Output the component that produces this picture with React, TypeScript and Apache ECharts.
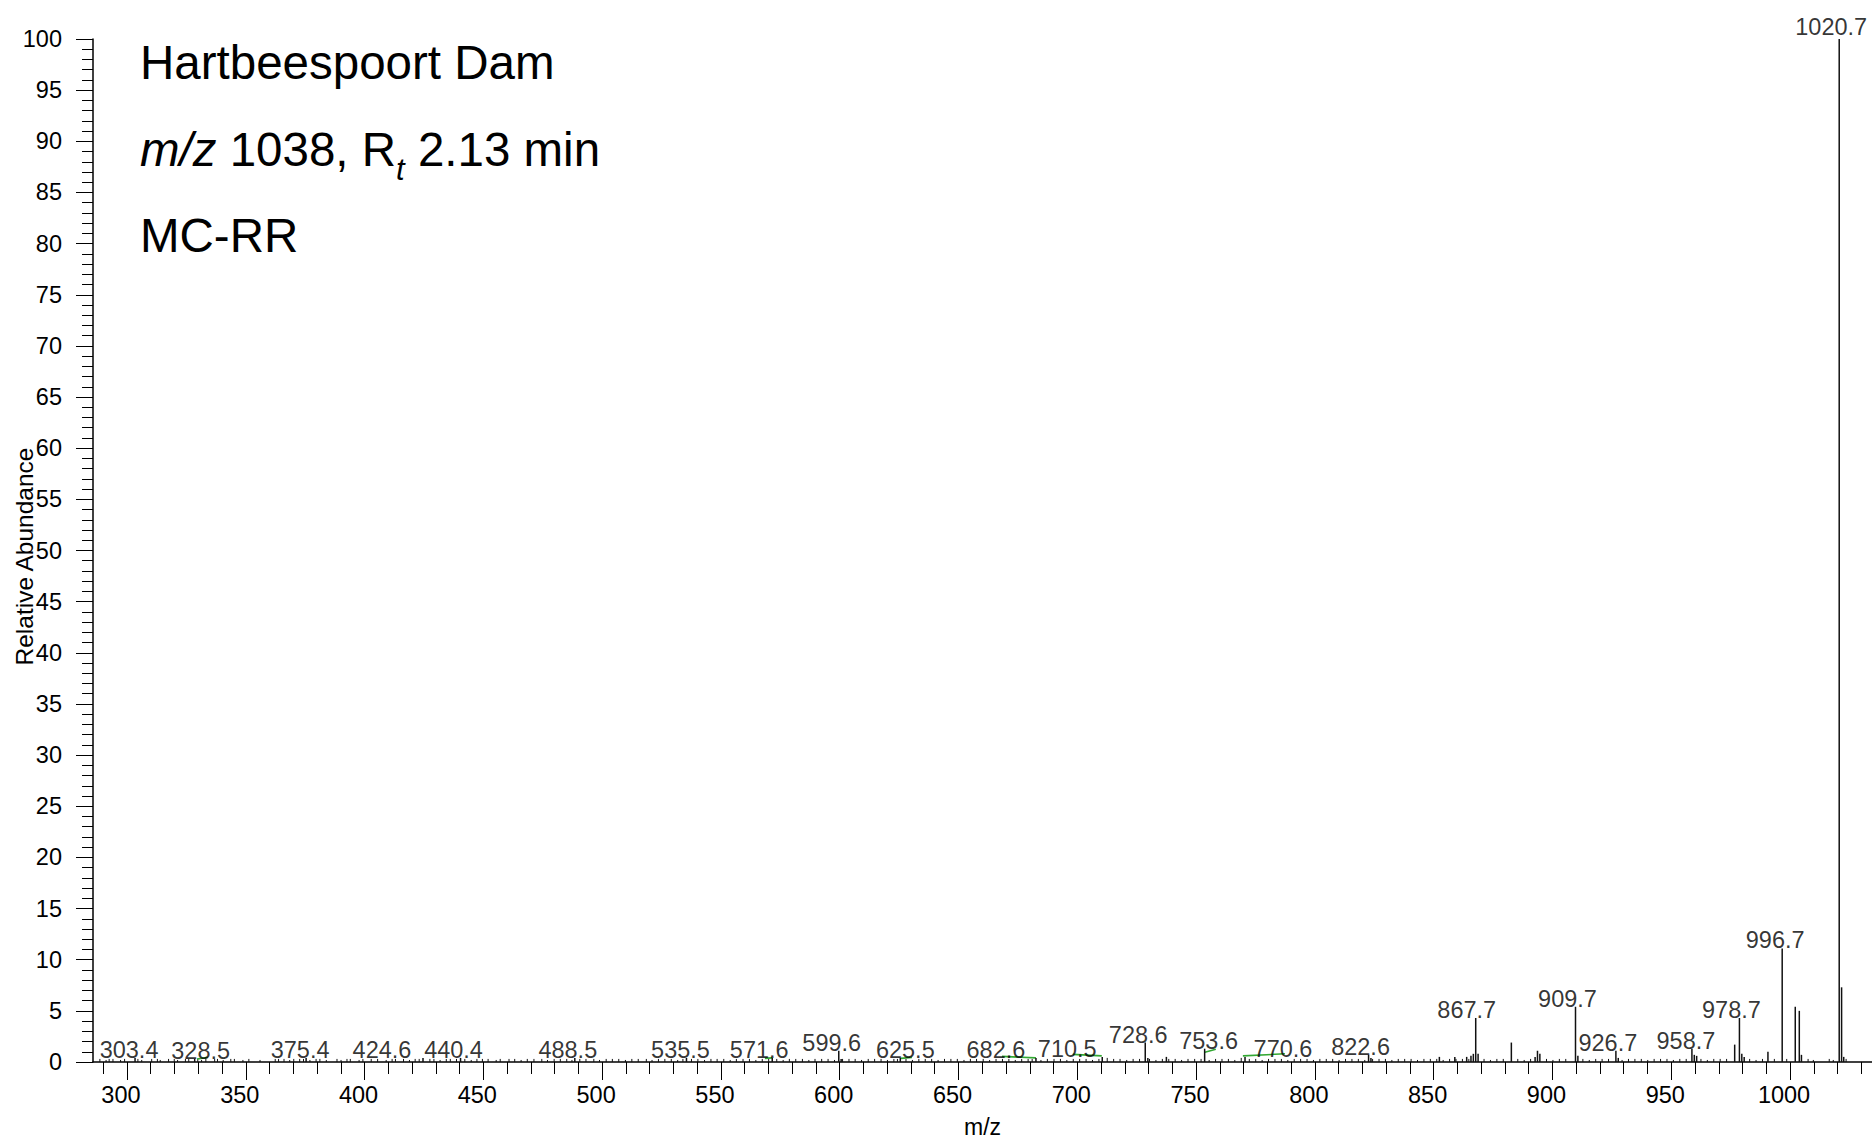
import React, { useEffect, useRef } from "react";
import * as echarts from "echarts";

const FONT = "Liberation Sans, Arial, Helvetica, sans-serif";

// Labelled peaks: m/z label and relative abundance
const peakLabels = ["303.4", "328.5", "375.4", "424.6", "440.4", "488.5", "535.5", "571.6", "599.6", "625.5", "682.6", "710.5", "728.6", "753.6", "770.6", "822.6", "867.7", "909.7", "926.7", "958.7", "978.7", "996.7", "1020.7"];
const peakValues = [0.4, 0.3, 0.4, 0.4, 0.4, 0.4, 0.4, 0.4, 1.1, 0.4, 0.4, 0.5, 1.9, 1.3, 0.5, 0.7, 4.3, 5.4, 1.1, 1.3, 4.3, 11.1, 100];
// label shifts (px) used by the instrument software to avoid overlaps
const labelShiftX = [-6, 6, -6, -41, -7, -7, -6, -13, -7, 5, -40, -35, -7, 4, 38, -8, -9, -8, -8, -6, -8, -7, -8];
const labelShiftY = [4, 4, 4, 4, 4, 4, 4, 4, 4, 4, 4, 4, 4, 4, 4, 4, 4, 4, 4, 4, 4, 4, 0];

// Unlabelled minor peaks [m/z, abundance]
const minorPeaks: [number, number][] = [
  [865.7, 0.6], [866.7, 0.8], [868.7, 0.8], [882.7, 1.9], [892.7, 0.5], [893.7, 1.1], [894.7, 0.8],
  [910.7, 0.6], [927.7, 0.4], [959.7, 0.7], [960.7, 0.6], [976.7, 1.7], [979.7, 0.8], [980.7, 0.5],
  [990.7, 1.0], [1002.2, 5.4], [1003.9, 5.0], [1004.8, 0.7], [1021.7, 7.3], [1022.6, 0.5],
  [729.7, 0.4], [737.5, 0.5], [600.6, 0.3], [823.6, 0.4], [852.4, 0.5], [858.9, 0.5], [863.9, 0.5],
];

// Baseline noise peaks [m/z, abundance]
const noisePeaks: [number, number][] = [
  [288.6, 0.3], [291.2, 0.2], [292.5, 0.3], [294.1, 0.3], [297.3, 0.2], [299.0, 0.3], [304.6, 0.3], [306.2, 0.2],
  [310.4, 0.3], [312.8, 0.3], [314.0, 0.2], [317.5, 0.3], [319.9, 0.3], [321.3, 0.2], [324.6, 0.3], [326.0, 0.3],
  [329.8, 0.3], [331.4, 0.2], [333.2, 0.3], [336.9, 0.3], [338.1, 0.3], [340.5, 0.2], [343.7, 0.3], [345.2, 0.3],
  [348.8, 0.2], [351.3, 0.3], [356.0, 0.2], [362.4, 0.3], [363.8, 0.3], [366.1, 0.3], [368.5, 0.2], [370.2, 0.3],
  [372.7, 0.3], [374.3, 0.3], [377.0, 0.2], [379.6, 0.3], [381.2, 0.3], [383.9, 0.2], [388.4, 0.3], [390.1, 0.2],
  [392.6, 0.3], [394.0, 0.3], [397.7, 0.2], [399.3, 0.3], [402.8, 0.3], [405.5, 0.3], [409.1, 0.2], [411.6, 0.3],
  [413.0, 0.3], [416.4, 0.3], [418.9, 0.2], [421.3, 0.3], [423.0, 0.3], [427.5, 0.3], [429.2, 0.3], [431.8, 0.2],
  [434.4, 0.3], [436.1, 0.3], [438.7, 0.3], [442.2, 0.3], [444.9, 0.2], [447.3, 0.3], [449.6, 0.3], [452.0, 0.3],
  [455.4, 0.2], [457.1, 0.3], [460.8, 0.3], [463.2, 0.3], [465.9, 0.2], [468.5, 0.3], [471.3, 0.3], [474.6, 0.3],
  [477.0, 0.2], [479.8, 0.3], [482.4, 0.3], [485.1, 0.3], [487.3, 0.2], [490.6, 0.3], [493.2, 0.3], [496.5, 0.3],
  [498.9, 0.2], [501.7, 0.3], [504.3, 0.3], [507.0, 0.3], [509.8, 0.2], [512.5, 0.3], [515.2, 0.3], [518.6, 0.3],
  [521.0, 0.2], [523.7, 0.3], [526.4, 0.3], [529.1, 0.3], [531.8, 0.2], [534.0, 0.3], [537.6, 0.3], [540.3, 0.3],
  [543.1, 0.2], [545.8, 0.3], [548.4, 0.3], [551.2, 0.3], [553.9, 0.2], [556.5, 0.3], [559.3, 0.3], [562.0, 0.3],
  [564.7, 0.2], [567.4, 0.3], [570.1, 0.3], [573.5, 0.3], [576.2, 0.2], [578.8, 0.3], [581.5, 0.3], [584.3, 0.3],
  [587.0, 0.2], [589.6, 0.3], [592.4, 0.3], [595.1, 0.3], [597.8, 0.2], [601.2, 0.3], [603.9, 0.3], [606.5, 0.3],
  [609.2, 0.2], [612.0, 0.3], [614.7, 0.3], [617.4, 0.3], [620.1, 0.2], [622.8, 0.3], [624.3, 0.3], [627.9, 0.3],
  [630.6, 0.2], [633.3, 0.3], [636.0, 0.3], [638.7, 0.3], [641.4, 0.2], [644.1, 0.3], [646.8, 0.3], [649.5, 0.3],
  [652.3, 0.2], [655.0, 0.3], [657.6, 0.3], [660.4, 0.3], [663.1, 0.2], [665.8, 0.3], [668.5, 0.3], [671.2, 0.3],
  [673.9, 0.2], [676.6, 0.3], [679.3, 0.3], [681.0, 0.3], [684.7, 0.2], [687.4, 0.3], [690.2, 0.3], [692.9, 0.3],
  [695.6, 0.2], [698.3, 0.3], [701.0, 0.3], [703.7, 0.3], [706.4, 0.2], [709.1, 0.3], [712.6, 0.4], [715.3, 0.3],
  [718.0, 0.3], [720.8, 0.2], [723.5, 0.3], [726.2, 0.3], [730.4, 0.3], [733.1, 0.2], [735.8, 0.3], [738.5, 0.3],
  [741.2, 0.3], [743.9, 0.2], [746.6, 0.3], [749.4, 0.3], [752.1, 0.3], [755.5, 0.2], [758.2, 0.3], [760.9, 0.3],
  [763.6, 0.3], [766.3, 0.2], [769.0, 0.4], [772.4, 0.3], [775.1, 0.3], [777.8, 0.2], [780.5, 0.3], [783.2, 0.3],
  [785.9, 0.3], [788.6, 0.2], [791.3, 0.3], [794.0, 0.3], [796.7, 0.3], [799.4, 0.2], [802.1, 0.3], [804.8, 0.3],
  [807.5, 0.3], [810.2, 0.2], [812.9, 0.3], [815.6, 0.3], [818.3, 0.3], [821.0, 0.2], [824.3, 0.3], [827.0, 0.3],
  [829.7, 0.3], [832.4, 0.2], [835.1, 0.3], [837.8, 0.3], [840.5, 0.3], [843.2, 0.2], [845.9, 0.3], [848.6, 0.3],
  [851.3, 0.3], [854.0, 0.2], [856.7, 0.3], [859.4, 0.3], [862.1, 0.3], [864.8, 0.3], [871.2, 0.3], [873.9, 0.2],
  [876.6, 0.3], [879.3, 0.3], [885.4, 0.3], [888.1, 0.2], [890.8, 0.3], [897.5, 0.3], [900.2, 0.2], [902.9, 0.3],
  [905.6, 0.3], [912.8, 0.3], [915.5, 0.2], [918.2, 0.3], [920.9, 0.3], [923.6, 0.3], [929.3, 0.2], [932.0, 0.3],
  [934.7, 0.3], [937.4, 0.3], [940.1, 0.2], [942.8, 0.3], [945.5, 0.3], [948.2, 0.3], [950.9, 0.2], [953.6, 0.3],
  [956.3, 0.3], [962.5, 0.3], [965.2, 0.2], [967.9, 0.3], [970.6, 0.3], [973.3, 0.3], [983.0, 0.3], [985.7, 0.2],
  [988.4, 0.3], [993.4, 0.3], [998.6, 0.3], [1007.6, 0.3], [1009.8, 0.2], [1016.5, 0.3], [1018.2, 0.2], [1023.6, 0.3],
];

// Green trace fragments [m/z start, abundance start, m/z end, abundance end]
const greenTrace: [number, number, number, number][] = [
  [329.5, 0.3, 334.0, 0.45],
  [568.5, 0.35, 571.5, 0.4],
  [625.8, 0.35, 630.4, 0.45],
  [668.3, 0.55, 682.6, 0.4],
  [698.1, 0.75, 710.3, 0.6],
  [753.7, 0.95, 758.3, 1.25],
  [769.7, 0.6, 787.4, 0.8],
];

const xMajorTicks = [300, 350, 400, 450, 500, 550, 600, 650, 700, 750, 800, 850, 900, 950, 1000];
const xMinorTicks = [290, 300, 310, 320, 330, 340, 350, 360, 370, 380, 390, 400, 410, 420, 430, 440, 450, 460, 470, 480, 490, 500, 510, 520, 530, 540, 550, 560, 570, 580, 590, 600, 610, 620, 630, 640, 650, 660, 670, 680, 690, 700, 710, 720, 730, 740, 750, 760, 770, 780, 790, 800, 810, 820, 830, 840, 850, 860, 870, 880, 890, 900, 910, 920, 930, 940, 950, 960, 970, 980, 990, 1000, 1010, 1020, 1030];

const titleLines = ["Hartbeespoort Dam", "{i|m/z} 1038, R{sub|t} 2.13 min", "MC-RR"];

const X_MIN = 285.7;
const X_MAX = 1034.5;

export default function App() {
  const ref = useRef<HTMLDivElement>(null);
  useEffect(() => {
    if (!ref.current) return;
    const chart = echarts.init(ref.current, undefined, { renderer: "svg" });

    const stickItem = (width: number) => (params: any, api: any) => {
      const x = api.value(0);
      const h = api.value(1);
      const p0 = api.coord([x, 0]);
      const p1 = api.coord([x, h]);
      return {
        type: "line",
        shape: { x1: p0[0], y1: p0[1], x2: p1[0], y2: p1[1] },
        style: { stroke: "#111", lineWidth: width },
      };
    };

    const labelled = peakLabels.map((l, i) => ({
      value: [parseFloat(l), peakValues[i]],
      name: l,
      label: { offset: [labelShiftX[i], labelShiftY[i]] },
    }));

    const option: any = {
      animation: false,
      backgroundColor: "#fff",
      grid: { left: 93, right: 0, top: 39, bottom: 78, containLabel: false, outerBoundsMode: "none" },
      xAxis: [
        {
          type: "value",
          min: X_MIN,
          max: X_MAX,
          position: "bottom",
          axisLine: { show: true, onZero: false, lineStyle: { color: "#000", width: 1.5 } },
          axisTick: { show: true, inside: false, length: 12, customValues: xMinorTicks, lineStyle: { color: "#000", width: 1 } },
          axisLabel: { show: false },
          splitLine: { show: false },
        },
        {
          type: "value",
          min: X_MIN,
          max: X_MAX,
          position: "bottom",
          offset: 0,
          name: "m/z",
          nameLocation: "middle",
          nameGap: 53,
          nameMoveOverlap: false,
          nameTextStyle: { fontSize: 23, color: "#000", fontFamily: FONT },
          axisLine: { show: false },
          axisTick: { show: true, inside: false, length: 18, customValues: xMajorTicks, lineStyle: { color: "#000", width: 1 } },
          axisLabel: {
            show: true,
            customValues: xMajorTicks,
            formatter: (v: number) => String(v),
            fontSize: 23.5,
            color: "#000",
            fontFamily: FONT,
            margin: 21,
            padding: [0, 12, 0, 0],
          },
          splitLine: { show: false },
        },
      ],
      yAxis: {
        type: "value",
        min: 0,
        max: 100,
        interval: 5,
        name: "Relative Abundance",
        nameLocation: "middle",
        nameRotate: 90,
        nameGap: 56,
        nameMoveOverlap: false,
        nameTextStyle: { fontSize: 24.5, color: "#000", fontFamily: FONT, padding: [0, 12, 0, 0] },
        axisLine: { show: true, lineStyle: { color: "#000", width: 1.5 } },
        axisTick: { show: true, inside: false, length: 17, lineStyle: { color: "#000", width: 1 } },
        minorTick: { show: true, splitNumber: 5, length: 11, lineStyle: { color: "#000", width: 1 } },
        axisLabel: { fontSize: 23.5, color: "#000", fontFamily: FONT, margin: 31 },
        splitLine: { show: false },
      },
      graphic: [
        {
          type: "text",
          x: 140,
          y: 62,
          style: { text: titleLines[0], fontSize: 47.5, fontFamily: FONT, fill: "#000", verticalAlign: "middle" },
        },
        {
          type: "text",
          x: 140,
          y: 113,
          style: {
            text: titleLines[1],
            fontSize: 47.5,
            lineHeight: 72,
            fontFamily: FONT,
            fill: "#000",
            verticalAlign: "top",
            rich: {
              i: { fontSize: 47.5, lineHeight: 72, fontStyle: "italic", fontFamily: FONT, fill: "#000" },
              sub: { fontSize: 31, lineHeight: 31, fontStyle: "italic", fontFamily: FONT, verticalAlign: "bottom", fill: "#000" },
            },
          },
        },
        {
          type: "text",
          x: 140,
          y: 235,
          style: { text: titleLines[2], fontSize: 47.5, fontFamily: FONT, fill: "#000", verticalAlign: "middle" },
        },
      ],
      series: [
        {
          type: "custom",
          name: "noise",
          encode: { x: 0, y: 1 },
          renderItem: stickItem(1),
          data: noisePeaks,
          silent: true,
        },
        {
          type: "custom",
          name: "green",
          encode: { x: [0, 2], y: [1, 3] },
          renderItem: (params: any, api: any) => {
            const p0 = api.coord([api.value(0), api.value(1)]);
            const p1 = api.coord([api.value(2), api.value(3)]);
            return {
              type: "line",
              shape: { x1: p0[0], y1: p0[1], x2: p1[0], y2: p1[1] },
              style: { stroke: "#33a833", lineWidth: 1.6 },
            };
          },
          data: greenTrace,
          silent: true,
        },
        {
          type: "custom",
          name: "minor",
          encode: { x: 0, y: 1 },
          renderItem: stickItem(1.5),
          data: minorPeaks,
          silent: true,
        },
        {
          type: "custom",
          name: "peaks",
          encode: { x: 0, y: 1 },
          renderItem: stickItem(1.5),
          data: peakLabels.map((l, i) => [parseFloat(l), peakValues[i]]),
          silent: true,
        },
        {
          type: "scatter",
          name: "labels",
          symbolSize: 0,
          data: labelled,
          label: {
            show: true,
            position: "top",
            distance: 0,
            formatter: (p: any) => p.name,
            fontSize: 23.5,
            color: "#000",
            fontFamily: FONT,
          },
          silent: true,
        },
      ],
    };
    chart.setOption(option);
    return () => chart.dispose();
  }, []);
  return <div ref={ref} style={{ position: "absolute", left: 0, top: 0, width: 1872, height: 1140 }} />;
}
